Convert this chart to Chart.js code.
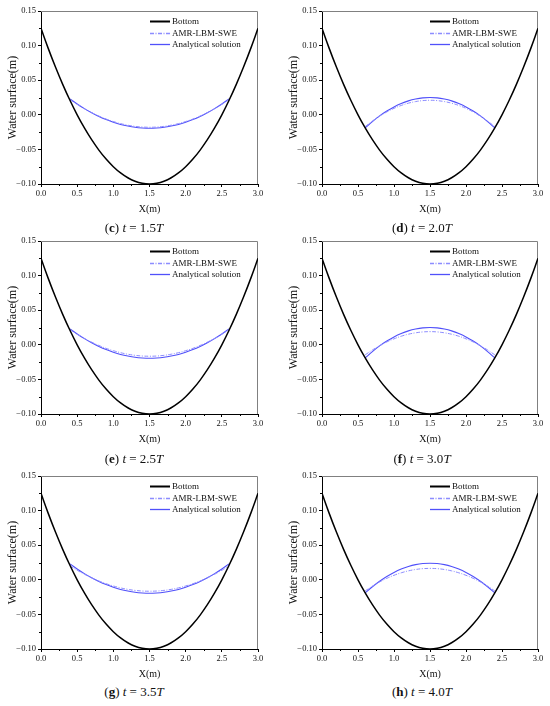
<!DOCTYPE html>
<html><head><meta charset="utf-8">
<script src="https://cdn.jsdelivr.net/npm/chart.js@4.4.1/dist/chart.umd.min.js"></script>
<style>
html,body{margin:0;padding:0;background:#fff;}
body{width:550px;height:706px;position:relative;overflow:hidden;font-family:"Liberation Serif","Times New Roman",serif;}
.pn{position:absolute;}
.cap{position:absolute;font-size:13px;color:#111;white-space:nowrap;transform:translate(-50%,-50%);}
</style></head><body>
<div class="pn" style="left:0;top:0"><canvas id="c1" width="275" height="219"></canvas></div>
<div class="pn" style="left:281px;top:0"><canvas id="c2" width="269" height="219"></canvas></div>
<div class="pn" style="left:0;top:230px"><canvas id="c3" width="275" height="219"></canvas></div>
<div class="pn" style="left:281px;top:230px"><canvas id="c4" width="269" height="219"></canvas></div>
<div class="pn" style="left:0;top:465px"><canvas id="c5" width="275" height="219"></canvas></div>
<div class="pn" style="left:281px;top:465px"><canvas id="c6" width="269" height="219"></canvas></div>
<div class="cap" style="left:134px;top:228px">(<b>c</b>) <i>t</i> = 1.5<i>T</i></div>
<div class="cap" style="left:422px;top:228px">(<b>d</b>) <i>t</i> = 2.0<i>T</i></div>
<div class="cap" style="left:134px;top:459px">(<b>e</b>) <i>t</i> = 2.5<i>T</i></div>
<div class="cap" style="left:422px;top:459px">(<b>f</b>) <i>t</i> = 3.0<i>T</i></div>
<div class="cap" style="left:134px;top:692px">(<b>g</b>) <i>t</i> = 3.5<i>T</i></div>
<div class="cap" style="left:422px;top:692px">(<b>h</b>) <i>t</i> = 4.0<i>T</i></div>
<script>
// ---- data ----
const xBottom = [0.0,0.1,0.2,0.3,0.4,0.5,0.6,0.7,0.8,0.9,1.0,1.1,1.2,1.3,1.4,1.5,1.6,1.7,1.8,1.9,2.0,2.1,2.2,2.3,2.4,2.5,2.6,2.7,2.8,2.9,3.0];
const bottom = [0.125,0.096,0.069,0.044,0.021,0.000,-0.019,-0.036,-0.051,-0.064,-0.075,-0.084,-0.091,-0.096,-0.099,-0.100,-0.099,-0.096,-0.091,-0.084,-0.075,-0.064,-0.051,-0.036,-0.019,0.000,0.021,0.044,0.069,0.096,0.125];

const xTrough = [0.4,0.5,0.6,0.7,0.8,0.9,1.0,1.1,1.2,1.3,1.4,1.5,1.6,1.7,1.8,1.9,2.0,2.1,2.2,2.3,2.4,2.5,2.6];
const xCrest = [0.6,0.7,0.8,0.9,1.0,1.1,1.2,1.3,1.4,1.5,1.6,1.7,1.8,1.9,2.0,2.1,2.2,2.3,2.4];

// t = 1.5T
const amrC = [0.022,0.0151,0.0088,0.0032,-0.0018,-0.0061,-0.0097,-0.0127,-0.0150,-0.0167,-0.0177,-0.0180,-0.0177,-0.0167,-0.0150,-0.0127,-0.0097,-0.0061,-0.0018,0.0032,0.0088,0.0151,0.022];
const anaC = [0.023,0.0156,0.0089,0.0030,-0.0023,-0.0069,-0.0107,-0.0139,-0.0163,-0.0181,-0.0191,-0.0195,-0.0191,-0.0181,-0.0163,-0.0139,-0.0107,-0.0069,-0.0023,0.0030,0.0089,0.0156,0.023];
// t = 2.0T
const amrD = [-0.017,-0.0090,-0.0020,0.0041,0.0093,0.0135,0.0168,0.0191,0.0205,0.0210,0.0205,0.0191,0.0168,0.0135,0.0093,0.0041,-0.0020,-0.0090,-0.017];
const anaD = [-0.019,-0.0098,-0.0016,0.0054,0.0114,0.0163,0.0201,0.0228,0.0245,0.0250,0.0245,0.0228,0.0201,0.0163,0.0114,0.0054,-0.0016,-0.0098,-0.019];
// t = 2.5T
const amrE = [0.022,0.0153,0.0093,0.0039,-0.0009,-0.0051,-0.0085,-0.0114,-0.0136,-0.0152,-0.0162,-0.0165,-0.0162,-0.0152,-0.0136,-0.0114,-0.0085,-0.0051,-0.0009,0.0039,0.0093,0.0153,0.022];
const anaE = [0.023,0.0156,0.0089,0.0030,-0.0023,-0.0069,-0.0107,-0.0139,-0.0163,-0.0181,-0.0191,-0.0195,-0.0191,-0.0181,-0.0163,-0.0139,-0.0107,-0.0069,-0.0023,0.0030,0.0089,0.0156,0.023];
// t = 3.0T
const amrF = [-0.0145,-0.0075,-0.0013,0.0041,0.0086,0.0124,0.0153,0.0173,0.0186,0.0190,0.0186,0.0173,0.0153,0.0124,0.0086,0.0041,-0.0013,-0.0075,-0.0145];
const anaF = [-0.019,-0.0098,-0.0016,0.0054,0.0114,0.0163,0.0201,0.0228,0.0245,0.0250,0.0245,0.0228,0.0201,0.0163,0.0114,0.0054,-0.0016,-0.0098,-0.019];
// t = 3.5T
const amrG = [0.020,0.0137,0.0080,0.0028,-0.0017,-0.0056,-0.0089,-0.0117,-0.0138,-0.0153,-0.0162,-0.0165,-0.0162,-0.0153,-0.0138,-0.0117,-0.0089,-0.0056,-0.0017,0.0028,0.0080,0.0137,0.020];
const anaG = [0.023,0.0156,0.0089,0.0030,-0.0023,-0.0069,-0.0107,-0.0139,-0.0163,-0.0181,-0.0191,-0.0195,-0.0191,-0.0181,-0.0163,-0.0139,-0.0107,-0.0069,-0.0023,0.0030,0.0089,0.0156,0.023];
// t = 4.0T
const amrH = [-0.016,-0.0092,-0.0031,0.0021,0.0065,0.0101,0.0129,0.0149,0.0161,0.0165,0.0161,0.0149,0.0129,0.0101,0.0065,0.0021,-0.0031,-0.0092,-0.016];
const anaH = [-0.019,-0.0100,-0.0020,0.0049,0.0107,0.0155,0.0192,0.0219,0.0235,0.0240,0.0235,0.0219,0.0192,0.0155,0.0107,0.0049,-0.0020,-0.0100,-0.019];

const seriesLabels = ['Bottom','AMR-LBM-SWE','Analytical solution'];
const xMinorTicks = [0.25,0.75,1.25,1.75,2.25,2.75];
const yMinorTicks = [-0.075,-0.025,0.025,0.075,0.125];

// ---- styling ----
const FONT = '"Liberation Serif","Times New Roman",serif';
const pts = (xs, ys) => xs.map((x, i) => ({x: x, y: ys[i]}));

const decorPlugin = {
  id: 'decor',
  beforeDatasetsDraw(chart) {
    const a = chart.chartArea, ctx = chart.ctx;
    ctx.save();
    ctx.strokeStyle = '#808080';
    ctx.lineWidth = 1;
    ctx.beginPath();
    ctx.moveTo(a.left, a.top + 0.5);
    ctx.lineTo(a.right - 0.5, a.top + 0.5);
    ctx.lineTo(a.right - 0.5, a.bottom);
    ctx.stroke();
    // minor ticks
    ctx.strokeStyle = '#000';
    const xs = chart.scales.x, ys = chart.scales.y;
    ctx.beginPath();
    xMinorTicks.forEach(v => { const p = Math.round(xs.getPixelForValue(v)) + 0.5; ctx.moveTo(p, a.bottom); ctx.lineTo(p, a.bottom + 2); });
    yMinorTicks.forEach(v => { const p = Math.round(ys.getPixelForValue(v)) + 0.5; ctx.moveTo(a.left, p); ctx.lineTo(a.left - 2, p); });
    ctx.stroke();
    ctx.restore();
  },
  afterDatasetsDraw(chart) {
    const a = chart.chartArea, ctx = chart.ctx;
    const x0 = a.right - 108;
    const rows = [10, 21.5, 32.5];
    ctx.save();
    ctx.font = '9px ' + FONT;
    ctx.textBaseline = 'middle';
    ctx.textAlign = 'left';
    chart.data.datasets.forEach((ds, i) => {
      const y = Math.round(a.top + rows[i]) + 0.5;
      ctx.strokeStyle = ds.borderColor;
      ctx.lineWidth = i === 0 ? 2 : 1.3;
      ctx.setLineDash(ds.borderDash || []);
      ctx.beginPath();
      ctx.moveTo(x0, y);
      ctx.lineTo(x0 + 20, y);
      ctx.stroke();
      ctx.setLineDash([]);
      ctx.fillStyle = '#111';
      ctx.fillText(ds.label, x0 + 22, y);
    });
    ctx.restore();
  }
};

function makeChart(id, padRight, xs, amr, ana) {
  return new Chart(document.getElementById(id), {
    type: 'line',
    data: {
      datasets: [
        {label: seriesLabels[0], data: pts(xBottom, bottom), borderColor: '#000', borderWidth: 1.5, pointRadius: 0, tension: 0.4, fill: false},
        {label: seriesLabels[1], data: pts(xs, amr), borderColor: 'rgb(140,140,255)', borderWidth: 1, borderDash: [4, 1.5, 1, 1.5], pointRadius: 0, tension: 0.4, fill: false},
        {label: seriesLabels[2], data: pts(xs, ana), borderColor: 'rgb(80,80,250)', borderWidth: 1.1, pointRadius: 0, tension: 0.4, fill: false}
      ]
    },
    options: {
      responsive: false,
      animation: false,
      devicePixelRatio: 1,
      layout: {padding: {top: 11, right: padRight, left: 0, bottom: 0}},
      plugins: {legend: {display: false}, tooltip: {enabled: false}},
      scales: {
        x: {
          type: 'linear', min: 0, max: 3,
          afterFit(s) { s.height = 35; },
          ticks: {stepSize: 0.5, color: '#111', padding: 2, maxRotation: 0, autoSkip: false,
                  font: {family: FONT, size: 8.5}, callback: v => v.toFixed(1)},
          grid: {display: true, drawOnChartArea: false, tickLength: 3, color: '#000'},
          border: {display: true, color: '#000', width: 1},
          title: {display: true, text: 'X(m)', color: '#111', font: {family: FONT, size: 10}, padding: {top: 4, bottom: 4}}
        },
        y: {
          type: 'linear', min: -0.10, max: 0.15,
          afterFit(s) { s.width = 41; },
          ticks: {stepSize: 0.05, color: '#111', padding: 2, autoSkip: false,
                  font: {family: FONT, size: 8.5}, callback: v => (Math.abs(v) < 1e-9 ? '0.00' : v.toFixed(2).replace('-', '\u2212'))},
          grid: {display: true, drawOnChartArea: false, tickLength: 3, color: '#000'},
          border: {display: true, color: '#000', width: 1},
          title: {display: true, text: 'Water surface(m)', color: '#111', font: {family: FONT, size: 12}, padding: {top: 6, bottom: 0}}
        }
      }
    },
    plugins: [decorPlugin]
  });
}

makeChart('c1', 17, xTrough, amrC, anaC);
makeChart('c2', 12, xCrest, amrD, anaD);
makeChart('c3', 17, xTrough, amrE, anaE);
makeChart('c4', 12, xCrest, amrF, anaF);
makeChart('c5', 17, xTrough, amrG, anaG);
makeChart('c6', 12, xCrest, amrH, anaH);
</script>
</body></html>
